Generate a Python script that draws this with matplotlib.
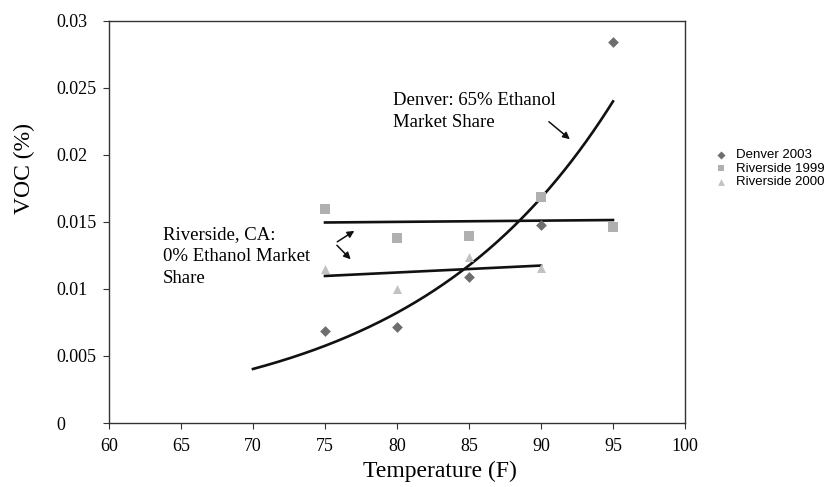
import numpy as np
import matplotlib
matplotlib.use("Agg")
import matplotlib.pyplot as plt

temps = [75, 80, 85, 90, 95]
temps_r2000 = [75, 80, 85, 90]
denver_2003 = [0.00686, 0.00714, 0.01091, 0.01477, 0.02839]
riverside_1999 = [0.01594, 0.01382, 0.01394, 0.01688, 0.01464]
riverside_2000 = [0.01148, 0.00999, 0.01240, 0.01154]

xticks = [60, 65, 70, 75, 80, 85, 90, 95, 100]
yticks = [0, 0.005, 0.01, 0.015, 0.02, 0.025, 0.03]
ytick_labels = ["0", "0.005", "0.01", "0.015", "0.02", "0.025", "0.03"]

serif = ["Liberation Serif", "DejaVu Serif"]
sans = ["Liberation Sans", "DejaVu Sans"]

W, H = 829, 487
fig = plt.figure(figsize=(W/100, H/100), dpi=100)
ax = fig.add_axes([109/W, 1-423/H, (685-109)/W, (423-20.7)/H])

# trend lines (least-squares fits of the plotted data)
b, lna = np.polyfit(temps, np.log(denver_2003), 1)
xd = np.linspace(70, 95, 200)
ax.plot(xd, np.exp(lna + b*xd), color="#111111", lw=1.9, zorder=2)

m1, c1 = np.polyfit(temps, riverside_1999, 1)
x1 = np.array([75, 95])
ax.plot(x1, m1*x1 + c1, color="#111111", lw=1.9, zorder=2)

m2, c2 = np.polyfit(temps_r2000, riverside_2000, 1)
x2 = np.array([75, 90])
ax.plot(x2, m2*x2 + c2, color="#111111", lw=1.9, zorder=2)

ax.scatter(temps, denver_2003, marker="D", s=30, color="#6e6e6e", label="Denver 2003", zorder=3, linewidths=0)
ax.scatter(temps, riverside_1999, marker="s", s=42, color="#b0b0b0", label="Riverside 1999", zorder=3, linewidths=0)
ax.scatter(temps_r2000, riverside_2000, marker="^", s=42, color="#c2c2c2", label="Riverside 2000", zorder=3, linewidths=0)

ax.set_xlim(60, 100)
ax.set_ylim(0, 0.03)
ax.set_xticks(xticks)
ax.set_xticklabels([str(t) for t in xticks], family=serif, fontsize=13)
ax.set_yticks(yticks)
ax.set_yticklabels(ytick_labels, family=serif, fontsize=13, ha="left")
ax.tick_params(axis="both", direction="out", length=4, width=0.8, color="#333333")
ax.tick_params(axis="y", pad=(109 - 58 - 4) * 0.72)
ax.tick_params(axis="x", pad=7)
for s in ax.spines.values():
    s.set_linewidth(1.0)
    s.set_color("#333333")

fig.text(440/W, 1-471/H, "Temperature (F)", family=serif, fontsize=17, ha="center", va="center")
fig.text(24/W, 1-168/H, "VOC (%)", family=serif, fontsize=17, ha="center", va="center", rotation=90)

ax.text(79.69, 0.02468, "Denver: 65% Ethanol\nMarket Share", family=serif, fontsize=13.5,
        va="top", ha="left", linespacing=1.38)
ax.annotate("", xy=(92.15, 0.02103), xytext=(90.4, 0.0226),
            arrowprops=dict(arrowstyle="-|>", color="#111111", lw=1.1, mutation_scale=10))

ax.text(63.73, 0.01466, "Riverside, CA:\n0% Ethanol Market\nShare", family=serif, fontsize=13.5,
        va="top", ha="left", linespacing=1.38)
ax.annotate("", xy=(77.2, 0.01444), xytext=(75.69, 0.0134),
            arrowprops=dict(arrowstyle="-|>", color="#111111", lw=1.1, mutation_scale=10))
ax.annotate("", xy=(76.92, 0.01206), xytext=(75.69, 0.0134),
            arrowprops=dict(arrowstyle="-|>", color="#111111", lw=1.1, mutation_scale=10))

leg = fig.legend(loc="center left", bbox_to_anchor=(713/W, 1-168.5/H), frameon=False,
                 prop={"family": sans, "size": 9.5}, handletextpad=0.6, labelspacing=0.09,
                 markerscale=0.75, handlelength=1.15, borderaxespad=0, borderpad=0)

fig.savefig("out.png", dpi=100)
